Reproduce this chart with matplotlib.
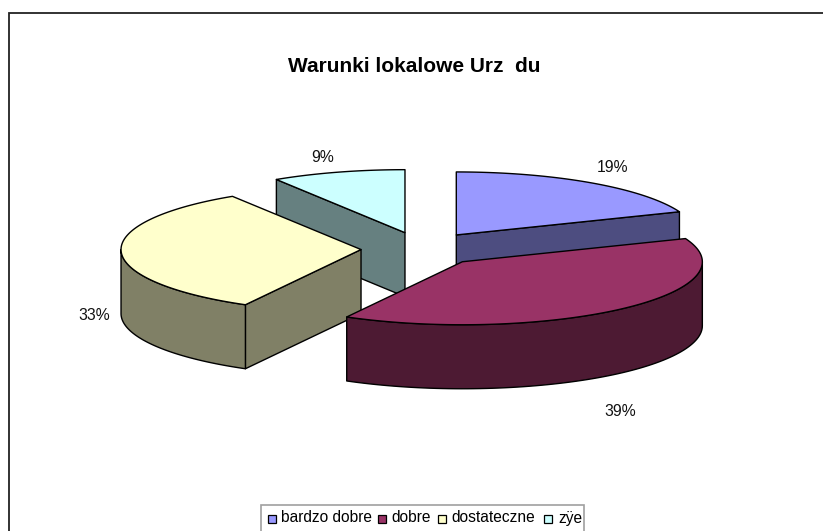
import numpy as np
import matplotlib
matplotlib.use("Agg")
import matplotlib.pyplot as plt
from matplotlib.patches import Polygon, Rectangle

plt.rcParams['font.family'] = ['Liberation Sans', 'DejaVu Sans']

categories = ['bardzo dobre', 'dobre', 'dostateczne', 'zÿe']
values = [19, 39, 33, 9]
labels = ['19%', '39%', '33%', '9%']
top_colors = ['#9999FF', '#993366', '#FFFFCC', '#CCFFFF']
side_colors = ['#4D4D80', '#4D1A33', '#808066', '#668080']

# pie geometry in pixels
CX, CY = 422, 249
RX, RY = 240, 63
EX, EY = 61, 17
DEPTH = 64

fig = plt.figure(figsize=(8.23, 5.31), dpi=100)
ax = fig.add_axes([0, 0, 1, 1])
ax.set_xlim(0, 823)
ax.set_ylim(531, 0)
ax.axis('off')

# chart frame runs off the right and bottom of the image
ax.plot([9.5, 9.5, 823], [531, 12.5, 12.5], color='#222222', lw=1.3, solid_joinstyle='miter')

ax.text(414, 67, 'Warunki lokalowe Urz  du', fontsize=15, fontweight='bold', ha='center', va='center')


def rim(apex, t):
    return np.column_stack([apex[0] + RX * np.sin(t), apex[1] - RY * np.cos(t)])


def face(pts, color):
    ax.add_patch(Polygon(pts, closed=True, facecolor=color, edgecolor='black', lw=1.0, joinstyle='round'))


def draw_slice(i):
    a0, a1 = edges[i], edges[i + 1]
    apex = (CX + EX * np.sin((a0 + a1) / 2), CY - EY * np.cos((a0 + a1) / 2))
    down = np.array([0, DEPTH])
    centre = np.array([apex])
    # radial walls, only those facing the viewer
    for a, seen in ((a0, np.sin(a0) < -1e-9), (a1, np.sin(a1) > 1e-9)):
        if seen:
            p = rim(apex, np.array([a]))
            face(np.vstack([centre, p, p + down, centre + down]), side_colors[i])
    # outer wall, only the part facing the viewer
    lo, hi = max(a0, np.pi / 2), min(a1, 3 * np.pi / 2)
    if hi > lo:
        arc = rim(apex, np.linspace(lo, hi, 80))
        face(np.vstack([arc, (arc + down)[::-1]]), side_colors[i])
    arc = rim(apex, np.linspace(a0, a1, 120))
    face(np.vstack([centre, arc]), top_colors[i])


edges = np.radians(np.concatenate([[0], np.cumsum(values)]) * 3.6)
for i in [3, 0, 2, 1]:
    draw_slice(i)

label_x = [613, 620, 94, 323]
label_y = [167, 412, 316, 157]
for i in range(len(labels)):
    ax.text(label_x[i], label_y[i], labels[i], fontsize=11.3, ha='center', va='center', color='#111111')

# legend
ax.add_patch(Rectangle((261.5, 504.5), 322.5, 40, facecolor='white', edgecolor='#a0a0a0', lw=1.2))
swatch_x = [268, 378, 438, 544]
text_x = [281, 391.5, 451, 558]
for i in range(len(categories)):
    ax.add_patch(Rectangle((swatch_x[i], 514.5), 8, 8, facecolor=top_colors[i], edgecolor='black', lw=0.9))
    ax.text(text_x[i], 518, categories[i], fontsize=11.2, ha='left', va='center')

fig.savefig('out.png', dpi=100)
